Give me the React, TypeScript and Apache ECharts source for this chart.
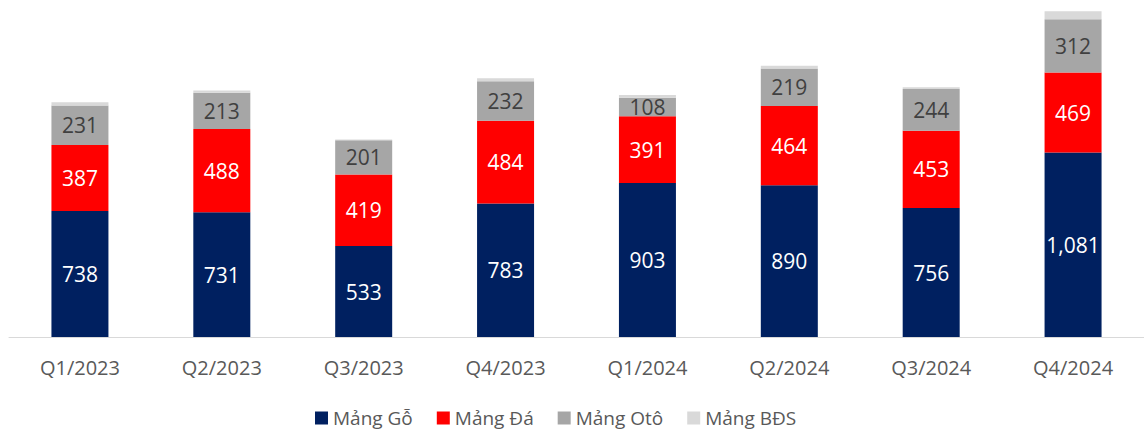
import React, { useEffect, useRef } from "react";
import * as echarts from "echarts";

const categories = ["Q1/2023", "Q2/2023", "Q3/2023", "Q4/2023", "Q1/2024", "Q2/2024", "Q3/2024", "Q4/2024"];
const go = [738, 731, 533, 783, 903, 890, 756, 1081];
const da = [387, 488, 419, 484, 391, 464, 453, 469];
const oto = [231, 213, 201, 232, 108, 219, 244, 312];
const bds = [20, 12, 5, 17, 16, 17, 10, 47];
const seriesNames = ["Mảng Gỗ", "Mảng Đá", "Mảng Otô", "Mảng BĐS"];

const FONT = "'Open Sans', sans-serif";

export default function App() {
  const ref = useRef<HTMLDivElement>(null);
  useEffect(() => {
    if (!ref.current) return;
    const chart = echarts.init(ref.current, null, { renderer: "svg" });
    const fmt = (p: any) => Number(p.value).toLocaleString("en-US");
    const mk = (name: string, data: number[], color: string, labelColor: string | null) => ({
      name,
      type: "bar",
      stack: "total",
      barWidth: 57,
      data,
      itemStyle: { color },
      label: labelColor
        ? { show: true, position: "inside", color: labelColor, fontSize: 21, fontFamily: FONT, formatter: fmt }
        : { show: false },
    });
    chart.setOption({
      animation: false,
      grid: { left: 9, width: 1136, top: 0, bottom: 96 },
      legend: {
        top: 408,
        left: 315,
        padding: 0,
        itemWidth: 13,
        itemHeight: 13,
        itemGap: 24,
        icon: "rect",
        textStyle: { fontSize: 19, lineHeight: 20, color: "#595959", fontFamily: FONT },
        data: seriesNames,
      },
      xAxis: {
        type: "category",
        data: categories,
        axisLine: { lineStyle: { color: "#D9D9D9", width: 1 } },
        axisTick: { show: false },
        axisLabel: { fontSize: 20, color: "#595959", margin: 20, fontFamily: FONT },
      },
      yAxis: { type: "value", min: 0, max: 1975, show: false, splitLine: { show: false } },
      series: [
        mk(seriesNames[0], go, "#002060", "#FFFFFF"),
        mk(seriesNames[1], da, "#FF0000", "#FFFFFF"),
        mk(seriesNames[2], oto, "#A6A6A6", "#404040"),
        mk(seriesNames[3], bds, "#D9D9D9", null),
      ],
    });
    return () => chart.dispose();
  }, []);
  return (
    <div
      ref={ref}
      style={{ position: "fixed", left: 0, top: 0, width: 1144, height: 433, background: "#fff" }}
    />
  );
}
